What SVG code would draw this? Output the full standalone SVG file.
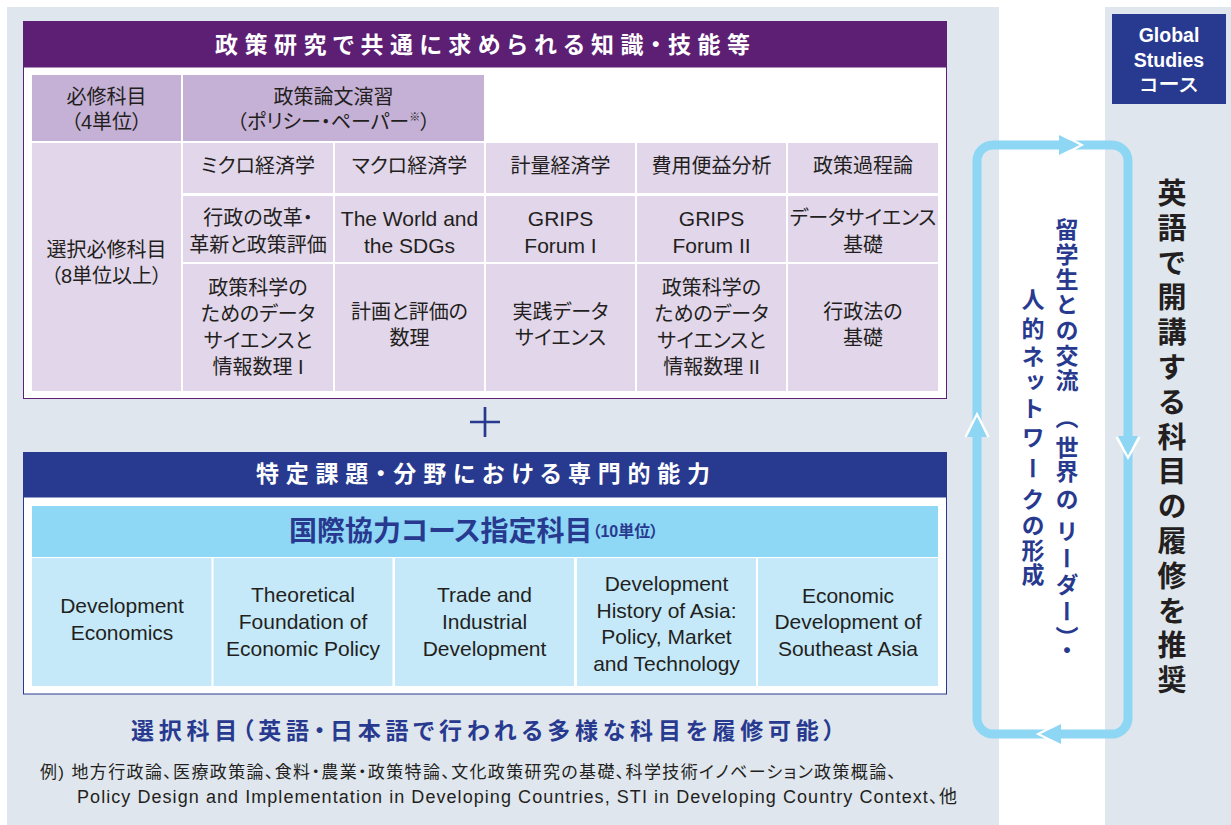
<svg xmlns="http://www.w3.org/2000/svg" width="1231" height="825" viewBox="0 0 1231 825">
<style>
.panel{fill:#dfe6ed}
.jp{font-family:"Liberation Sans","Noto Sans CJK JP",sans-serif;font-feature-settings:"palt"}
.cell{font-size:20px;fill:#231f20;text-anchor:middle;dominant-baseline:central}
.en{font-size:21px;fill:#231f20;text-anchor:middle;dominant-baseline:central;font-family:"Liberation Sans","Noto Sans CJK JP",sans-serif}
.c0{fill:#c6b1d6}
.c1{fill:#e2d6ea}
.cb{fill:#c5e9f9}
.hdr{font-size:23px;font-weight:bold;fill:#ffffff;dominant-baseline:central}
.vt{font-family:"Noto Sans CJK JP",sans-serif;writing-mode:vertical-rl;font-weight:bold}
.loop{fill:none;stroke:#8dd6f4;stroke-width:9}
.ah{fill:#8dd6f4}
.ahw{fill:none;stroke:#ffffff;stroke-width:2.5;stroke-linejoin:miter}
.gs{font-family:"Liberation Sans",sans-serif;font-size:19.5px;font-weight:bold;fill:#ffffff;text-anchor:middle;dominant-baseline:central}
</style>

<!-- background panels -->
<rect class="panel" x="7" y="7" width="992" height="818"/>
<rect class="panel" x="1105" y="7" width="126" height="818"/>

<!-- connectors: exchange loop -->
<g id="connectors">
  <rect class="loop" x="977" y="145" width="151" height="589" rx="16" ry="16"/>
  <polyline class="ahw" points="1060,133.5 1081.5,145 1060,156.5"/>
  <polygon class="ah" points="1059,135 1079,145 1059,155"/>
  <polyline class="ahw" points="1116.5,437 1128,457.5 1139.5,437"/>
  <polygon class="ah" points="1118,436 1128,455 1138,436"/>
  <polyline class="ahw" points="1061,722.5 1038.5,734 1061,745.5"/>
  <polygon class="ah" points="1061,724 1041,734 1061,744"/>
  <polyline class="ahw" points="965.5,437 977,414.5 988.5,437"/>
  <polygon class="ah" points="967,437 977,417 987,437"/>
</g>

<!-- top box -->
<g id="common-skills">
  <rect x="23.5" y="67" width="923" height="331.5" fill="#ffffff" stroke="#5c1f74" stroke-width="1"/>
  <rect x="23" y="21" width="924" height="46" fill="#5c1f74"/>
  <text class="jp hdr" x="215" y="45" textLength="535" lengthAdjust="spacing">政策研究で共通に求められる知識・技能等</text>

  <rect class="c0" x="32" y="75" width="149" height="66"/>
  <rect class="c0" x="183" y="75" width="301" height="66"/>
  <text class="jp cell" x="106.5" y="97">必修科目</text>
  <text class="jp cell" x="106.5" y="122">（4単位）</text>
  <text class="jp cell" x="333.5" y="97">政策論文演習</text>
  <text class="jp cell" x="333.5" y="122">（ポリシー・ペーパー<tspan font-size="11" dy="-5">※</tspan><tspan dy="5">）</tspan></text>

  <rect class="c1" x="32" y="143" width="149" height="248"/>
  <text class="jp cell" x="106.5" y="250">選択必修科目</text>
  <text class="jp cell" x="106.5" y="276">（8単位以上）</text>

  <rect class="c1" x="183" y="143" width="150" height="50"/>
  <rect class="c1" x="335" y="143" width="149" height="50"/>
  <rect class="c1" x="486" y="143" width="149" height="50"/>
  <rect class="c1" x="637" y="143" width="149" height="50"/>
  <rect class="c1" x="788" y="143" width="150" height="50"/>
  <rect class="c1" x="183" y="196" width="150" height="66"/>
  <rect class="c1" x="335" y="196" width="149" height="66"/>
  <rect class="c1" x="486" y="196" width="149" height="66"/>
  <rect class="c1" x="637" y="196" width="149" height="66"/>
  <rect class="c1" x="788" y="196" width="150" height="66"/>
  <rect class="c1" x="183" y="264" width="150" height="127"/>
  <rect class="c1" x="335" y="264" width="149" height="127"/>
  <rect class="c1" x="486" y="264" width="149" height="127"/>
  <rect class="c1" x="637" y="264" width="149" height="127"/>
  <rect class="c1" x="788" y="264" width="150" height="127"/>

  <text class="jp cell" x="258" y="166">ミクロ経済学</text>
  <text class="jp cell" x="409.5" y="166">マクロ経済学</text>
  <text class="jp cell" x="560.5" y="166">計量経済学</text>
  <text class="jp cell" x="711.5" y="166">費用便益分析</text>
  <text class="jp cell" x="863" y="166">政策過程論</text>

  <text class="jp cell" x="258" y="218">行政の改革・</text>
  <text class="jp cell" x="258" y="245">革新と政策評価</text>
  <text class="en" x="409.5" y="218">The World and</text>
  <text class="en" x="409.5" y="245">the SDGs</text>
  <text class="en" x="560.5" y="218">GRIPS</text>
  <text class="en" x="560.5" y="245">Forum I</text>
  <text class="en" x="711.5" y="218">GRIPS</text>
  <text class="en" x="711.5" y="245">Forum II</text>
  <text class="jp cell" x="863" y="218">データサイエンス</text>
  <text class="jp cell" x="863" y="245">基礎</text>

  <text class="jp cell" x="258" y="288">政策科学の</text>
  <text class="jp cell" x="258" y="314">ためのデータ</text>
  <text class="jp cell" x="258" y="341">サイエンスと</text>
  <text class="jp cell" x="258" y="367">情報数理 I</text>
  <text class="jp cell" x="409.5" y="312">計画と評価の</text>
  <text class="jp cell" x="409.5" y="338">数理</text>
  <text class="jp cell" x="560.5" y="312">実践データ</text>
  <text class="jp cell" x="560.5" y="338">サイエンス</text>
  <text class="jp cell" x="711.5" y="288">政策科学の</text>
  <text class="jp cell" x="711.5" y="314">ためのデータ</text>
  <text class="jp cell" x="711.5" y="341">サイエンスと</text>
  <text class="jp cell" x="711.5" y="367">情報数理 II</text>
  <text class="jp cell" x="863" y="312">行政法の</text>
  <text class="jp cell" x="863" y="338">基礎</text>
</g>

<!-- plus -->
<g id="plus">
  <path d="M470,422 H500 M485,407 V437" stroke="#283a8f" stroke-width="2.7" fill="none"/>
</g>

<!-- bottom box -->
<g id="specialized">
  <rect x="23.5" y="497" width="923" height="197" fill="#ffffff" stroke="#283a8f" stroke-width="1"/>
  <rect x="23" y="452" width="924" height="45" fill="#283a8f"/>
  <text class="jp hdr" x="256" y="474" textLength="454" lengthAdjust="spacing">特定課題・分野における専門的能力</text>

  <rect x="32" y="506" width="906" height="51" fill="#8ed7f5"/>
  <text class="jp" x="289" y="531" fill="#283a8f" font-weight="bold" dominant-baseline="central"><tspan font-size="28">国際協力コース指定科目</tspan><tspan font-size="16">（10単位）</tspan></text>

  <rect class="cb" x="32" y="558" width="179.5" height="128"/>
  <rect class="cb" x="213.5" y="558" width="179" height="128"/>
  <rect class="cb" x="395" y="558" width="179" height="128"/>
  <rect class="cb" x="577" y="558" width="179" height="128"/>
  <rect class="cb" x="758" y="558" width="180" height="128"/>

  <text class="en" x="122" y="605">Development</text>
  <text class="en" x="122" y="632">Economics</text>
  <text class="en" x="303" y="594">Theoretical</text>
  <text class="en" x="303" y="621">Foundation of</text>
  <text class="en" x="303" y="648">Economic Policy</text>
  <text class="en" x="484.5" y="594">Trade and</text>
  <text class="en" x="484.5" y="621">Industrial</text>
  <text class="en" x="484.5" y="648">Development</text>
  <text class="en" x="666.5" y="583">Development</text>
  <text class="en" x="666.5" y="610">History of Asia:</text>
  <text class="en" x="666.5" y="636">Policy, Market</text>
  <text class="en" x="666.5" y="663">and Technology</text>
  <text class="en" x="848" y="595">Economic</text>
  <text class="en" x="848" y="621">Development of</text>
  <text class="en" x="848" y="648">Southeast Asia</text>
</g>

<!-- electives -->
<g id="electives">
  <text class="jp" x="131" y="731" font-size="23" font-weight="bold" fill="#283a8f" dominant-baseline="central" textLength="704" lengthAdjust="spacing">選択科目（英語・日本語で行われる多様な科目を履修可能）</text>
  <text class="jp" x="40" y="772" font-size="17" fill="#231f20" dominant-baseline="central" textLength="856" lengthAdjust="spacing">例) 地方行政論、医療政策論、食料・農業・政策特論、文化政策研究の基礎、科学技術イノベーション政策概論、</text>
  <text class="jp" x="77" y="797" font-size="18" fill="#231f20" dominant-baseline="central" textLength="880" lengthAdjust="spacing">Policy Design and Implementation in Developing Countries, STI in Developing Country Context、他</text>
</g>

<!-- Global Studies course -->
<g id="global-studies">
  <rect x="1112" y="14" width="114" height="90" fill="#283a8f"/>
  <text class="gs" x="1169" y="35">Global</text>
  <text class="gs" x="1169" y="60">Studies</text>
  <text class="gs" x="1169" y="84" font-family="Noto Sans CJK JP, sans-serif" font-size="16.5">コース</text>
</g>

<!-- vertical: English-taught courses -->
<g id="english-courses">
  <text class="vt" x="1172" y="178.5 213.3 248.1 282.9 317.7 352.5 387.3 422.1 456.9 491.7 526.5 561.3 596.1 630.9 665.7" font-size="29" fill="#231f20">英語で開講する科目の履修を推奨</text>
</g>

<!-- vertical: exchange with international students -->
<g id="exchange">
  <text class="vt" x="1067" y="217.5 242.7 267.9 293.1 318.3 343.5 368.7 406 436 459.5 487.5 519.5 547 572.5 599.5 626 638.5" font-size="23" fill="#283a8f">留学生との交流（世界のリーダー）・</text>
  <text class="vt" x="1033" y="287.5 316.5 344.5 370.5 396.5 425.5 456.5 487.5 513.5 538.5 562.5" font-size="23" fill="#283a8f">人的ネットワークの形成</text>
</g>
</svg>
